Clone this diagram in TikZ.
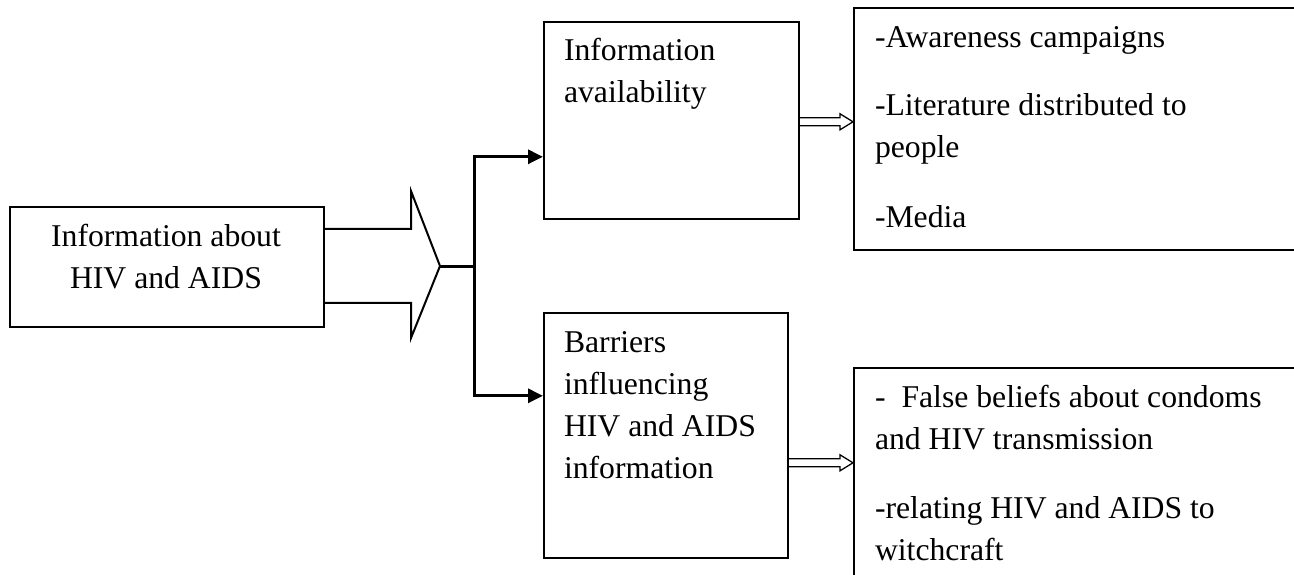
\documentclass[tikz,border=0pt]{standalone}
\usepackage{fontspec}
\setmainfont{Liberation Serif}
\usetikzlibrary{calc,arrows.meta}

\begin{document}
\begin{tikzpicture}[x=1pt,y=-1pt,
  box/.style={draw=black, line width=1.6pt, fill=none, inner sep=0pt, anchor=north west},
  wbox/.style={box, line width=2.2pt},
  txt/.style={inner sep=0pt, outer sep=0pt, font=\fontsize{31.7}{42}\selectfont},
  blk/.style={draw=black, line width=2pt, line join=miter},
  conn/.style={draw=black, line width=3pt},
  tri/.style={conn, -{Triangle[length=15pt,width=14pt]}},
  hollow/.style={draw=black, line width=1.3pt, line join=miter}]

\useasboundingbox (0,0) rectangle (1294,574);
\clip (0,0) rectangle (1294,574);

% boxes
\node[box, minimum width=314pt, minimum height=120pt] (src) at (9,206) {};
\node[box, minimum width=255pt, minimum height=197pt] (avail) at (543,21) {};
\node[box, minimum width=244pt, minimum height=245pt] (barr) at (543,312) {};
\node[wbox, minimum width=460pt, minimum height=242pt] (outA) at (853,7) {};
\node[wbox, minimum width=460pt, minimum height=260pt] (outB) at (853,367) {};

% texts
\node[txt, align=center, anchor=north] (srcT) at (166,216.6)
  {\strut Information about\\HIV and AIDS};
\node[txt, align=left, anchor=north west] (availT) at (564,30.6)
  {\strut Information\\availability};
\node[txt, align=left, anchor=north west] (barrT) at (564,322.6)
  {\strut Barriers\\influencing\\HIV and AIDS\\information};
\node[txt, align=left, anchor=north west] (outAT) at (875,17.6)
  {\strut -Awareness campaigns\\[26pt]-Literature distributed to\\people\\[28pt]-Media};
\node[txt, align=left, anchor=north west] (outBT) at (875,377.6)
  {\strut -\hspace{16pt}False beliefs about condoms\\and HIV transmission\\[27pt]-relating HIV and AIDS to\\witchcraft};

% block arrow leaving the source box
\coordinate (tip) at (440,266);
\coordinate (split) at (474,266);
\draw[blk] ($(src.east)+(0,-38)$) -| (411,191) -- (tip) -- (411,338) |- ($(src.east)+(0,36)$);

% branching connectors
\draw[conn] (tip) -- (split);
\draw[tri] (split) |- ($(avail.west)+(0,36.5)$);
\draw[tri] (split) |- ($(barr.west)+(0,-39.5)$);

% hollow arrows towards the detail boxes
\coordinate (s1) at ($(avail.east)+(0,1.5)$);
\coordinate (e1) at (outA.west |- s1);
\draw[hollow] ($(s1)+(0,-4)$) -- ($(e1)+(-13,-4)$) -- ($(e1)+(-13,-8)$) -- (e1)
  -- ($(e1)+(-13,8)$) -- ($(e1)+(-13,4)$) -- ($(s1)+(0,4)$);
\coordinate (s2) at ($(barr.east)+(0,27.5)$);
\coordinate (e2) at (outB.west |- s2);
\draw[hollow] ($(s2)+(0,-4)$) -- ($(e2)+(-13,-4)$) -- ($(e2)+(-13,-8)$) -- (e2)
  -- ($(e2)+(-13,8)$) -- ($(e2)+(-13,4)$) -- ($(s2)+(0,4)$);
\end{tikzpicture}
\end{document}
